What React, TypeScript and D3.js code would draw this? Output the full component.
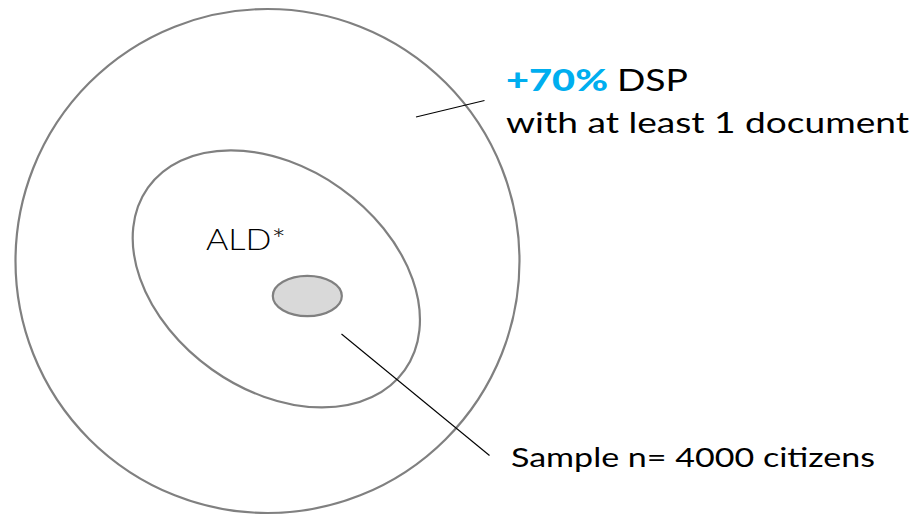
import React from "react";
import * as d3 from "d3";

// Nested population sets (normalized units, outer circle radius = 1)
const setNames = ["DSP", "ALD*", "Sample"];
const setCx = [0, 0.035, 0.158];
const setCy = [0, 0.071, 0.139];
const setRx = [1, 0.625, 0.137];
const setRy = [1, 0.441, 0.08];
const setRotation = [0, 35.4, 0];
const setFill = ["none", "none", "#d9d9d9"];

const highlightText = "+70%";
const dspLabel = "DSP";
const dspSubLabel = "with at least 1 document";
const aldLabel = "ALD*";
const sampleLabel = "Sample n= 4000 citizens";

const W = 919;
const H = 515;

export default function App() {
  const cx = 267.5;
  const cy = 261;
  const R = 252;
  const x = d3.scaleLinear().domain([-1, 1]).range([cx - R, cx + R]);
  const y = d3.scaleLinear().domain([-1, 1]).range([cy - R, cy + R]);
  const k = (v: number) => v * R;
  const font = "Lato, 'Open Sans', sans-serif";

  return (
    <div style={{ position: "absolute", left: 0, top: 0 }}>
      <svg width={W} height={H} style={{ display: "block", background: "#fff" }}>
        {setNames.map((n, i) => (
          <ellipse
            key={n}
            cx={x(setCx[i])}
            cy={y(setCy[i])}
            rx={k(setRx[i])}
            ry={k(setRy[i])}
            transform={`rotate(${setRotation[i]} ${x(setCx[i])} ${y(setCy[i])})`}
            fill={setFill[i]}
            stroke="#808080"
            strokeWidth={2.2}
          />
        ))}
        {/* leader lines */}
        <line x1={416} y1={117} x2={484.5} y2={100.5} stroke="#000" strokeWidth={1.1} />
        <line x1={341.5} y1={334} x2={489.5} y2={455.5} stroke="#000" strokeWidth={1.1} />

        <text x={506} y={90.5} fontFamily={font} fontSize={30.5} fill="#000">
          <tspan fill="#00aeef" fontWeight={900} textLength={102} lengthAdjust="spacingAndGlyphs">{highlightText}</tspan>
          <tspan x={617} textLength={71} lengthAdjust="spacingAndGlyphs">{dspLabel}</tspan>
        </text>
        <text x={506} y={132.5} fontFamily={font} fontSize={29} fill="#000" textLength={403} lengthAdjust="spacingAndGlyphs">
          {dspSubLabel}
        </text>
        <text x={206} y={249.5} fontFamily={font} fontSize={30} fontWeight={300} fill="#000" textLength={80} lengthAdjust="spacingAndGlyphs">
          {aldLabel}
        </text>
        <text x={511} y={467} fontFamily={font} fontSize={27.5} fill="#000" textLength={364} lengthAdjust="spacingAndGlyphs">
          {sampleLabel}
        </text>
      </svg>
    </div>
  );
}
